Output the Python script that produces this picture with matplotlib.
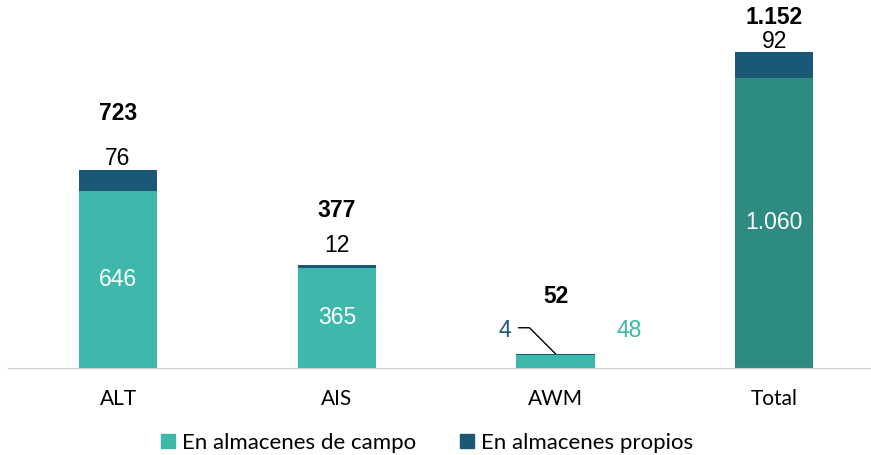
import numpy as np
import matplotlib.pyplot as plt
from matplotlib.patches import Patch

# data
categories = ['ALT', 'AIS', 'AWM', 'Total']
campo = [646, 365, 48, 1060]
propios = [76, 12, 4, 92]
totales = ['723', '377', '52', '1.152']
campo_txt = ['646', '365', '48', '1.060']
propios_txt = ['76', '12', '4', '92']

c_campo = '#3DB8AA'
c_prop = '#1A5876'
c_total = '#2E8B80'

plt.rcParams['font.family'] = ['Liberation Sans', 'DejaVu Sans']

fig = plt.figure(figsize=(8.71, 4.55), dpi=100)
ax = fig.add_axes([8 / 871, 87 / 455, 862 / 871, 368 / 455])

x = np.arange(len(categories))
w = 0.357
bottom_colors = [c_campo, c_campo, c_campo, c_total]
ax.bar(x, campo, w, color=bottom_colors)
ax.bar(x, propios, w, bottom=campo, color=c_prop)

ax.set_xlim(-0.503, 3.438)
ax.set_ylim(0, 1343)

fs = 16.5

# labels inside the green part
for i in [0, 1, 3]:
    ax.text(x[i], campo[i] / 2, campo_txt[i], ha='center', va='center',
            color='white', fontsize=fs)

# labels above the bars (offsets in pixels, as placed in the original)
own_off = [12, 19, None, 11]
tot_off = [57, 54, 57, 35]
for i in range(len(categories)):
    top = campo[i] + propios[i]
    if own_off[i] is not None:
        ax.annotate(propios_txt[i], (x[i], top), xytext=(0, own_off[i]),
                    textcoords='offset pixels', ha='center', va='center',
                    fontsize=fs)
    ax.annotate(totales[i], (x[i], top), xytext=(0, tot_off[i]),
                textcoords='offset pixels', ha='center', va='center',
                fontsize=fs, fontweight='bold')

# AWM: small values with leader line
i = 2
top = campo[i] + propios[i]
ax.annotate(propios_txt[i], (x[i], top), xytext=(-51, 23),
            textcoords='offset pixels', ha='center', va='center',
            fontsize=fs, color=c_prop)
ax.annotate('', (x[i], top), xytext=(-37, 26), textcoords='offset pixels',
            arrowprops=dict(arrowstyle='-', color='black', lw=1,
                            connectionstyle='angle,angleA=0,angleB=-45,rad=0',
                            shrinkA=0, shrinkB=0))
ax.annotate(campo_txt[i], (x[i], top), xytext=(74, 23),
            textcoords='offset pixels', ha='center', va='center',
            fontsize=fs, color=c_campo)

for s in ['top', 'right', 'left']:
    ax.spines[s].set_visible(False)
ax.spines['bottom'].set_color('#D0D0D0')
ax.set_yticks([])
ax.set_xticks(x)
ax.set_xticklabels(categories, fontsize=15, family='Lato')
ax.tick_params(axis='x', length=0, pad=15)

handles = [Patch(color=c_campo, label='En almacenes de campo'),
           Patch(color=c_prop, label='En almacenes propios')]
fig.legend(handles=handles, loc='center', bbox_to_anchor=(427 / 871, 1 - 443 / 455),
           ncol=2, frameon=False, handlelength=0.63, handleheight=0.63,
           handletextpad=0.32, columnspacing=2.0, borderpad=0,
           prop={'family': 'Lato', 'size': 16})

fig.savefig('out.png', dpi=100)
